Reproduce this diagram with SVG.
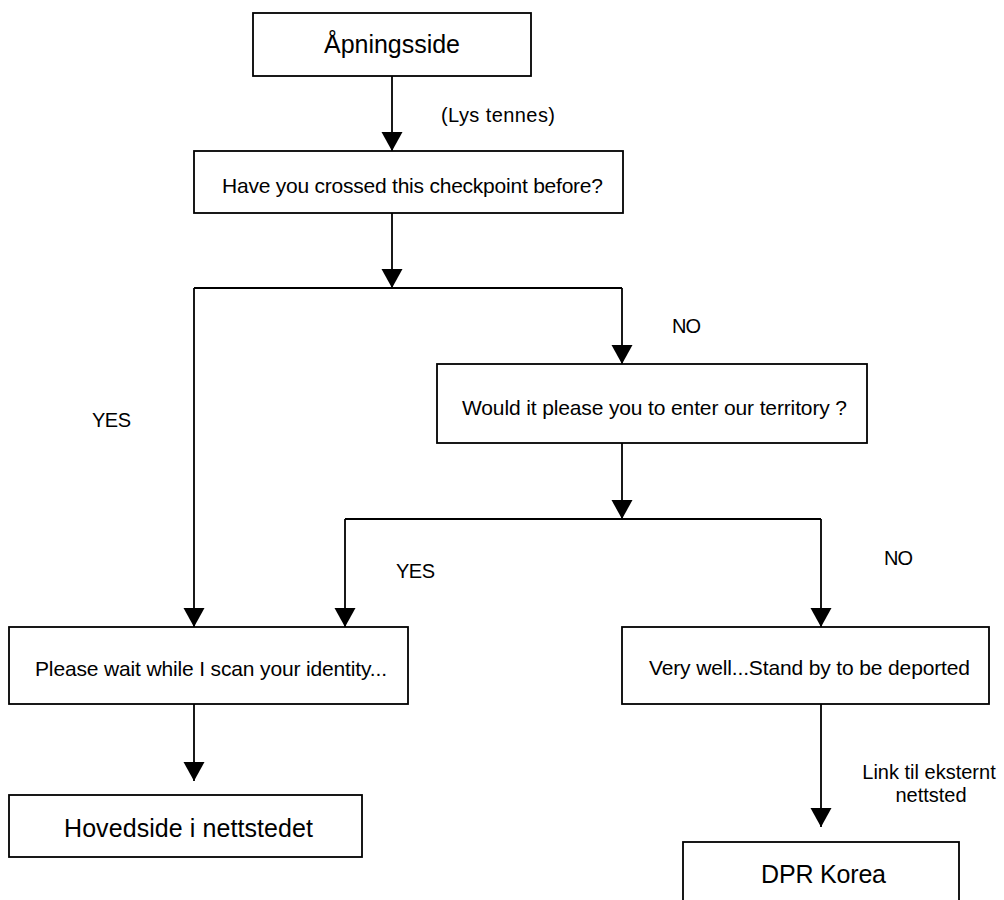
<svg xmlns="http://www.w3.org/2000/svg" width="1004" height="900" viewBox="0 0 1004 900">
<defs>
<marker id="arr" markerUnits="userSpaceOnUse" markerWidth="20" markerHeight="22" refX="19" refY="10.5" orient="auto">
<path d="M0,0 L19,10.5 L0,21 z" fill="#000"/>
</marker>
<style>
.box{fill:#fff;stroke:#000;stroke-width:1.8}
.ln{fill:none;stroke:#000;stroke-width:1.8}
.t{font-family:"Liberation Sans",Arial,sans-serif;font-size:20px;fill:#000}
.bt{font-family:"Liberation Sans",Arial,sans-serif;font-size:21px;fill:#000}
.big{font-family:"Liberation Sans",Arial,sans-serif;font-size:25px;fill:#000}
</style>
</defs>
<rect width="1004" height="900" fill="#fff"/>
<g id="connectors">
<path class="ln" d="M392,76 V151" marker-end="url(#arr)"/>
<path class="ln" d="M392,213 V288" marker-end="url(#arr)"/>
<path class="ln" d="M194,288 H622"/>
<path class="ln" d="M194,288 V627" marker-end="url(#arr)"/>
<path class="ln" d="M622,288 V364" marker-end="url(#arr)"/>
<path class="ln" d="M622,443 V519" marker-end="url(#arr)"/>
<path class="ln" d="M345,519 H821"/>
<path class="ln" d="M345,519 V627" marker-end="url(#arr)"/>
<path class="ln" d="M821,519 V627" marker-end="url(#arr)"/>
<path class="ln" d="M194,704 V781" marker-end="url(#arr)"/>
<path class="ln" d="M821,704 V827" marker-end="url(#arr)"/>
<text class="t" x="441" y="122" textLength="114">(Lys tennes)</text>
<text class="t" x="92" y="427" textLength="39">YES</text>
<text class="t" x="672" y="333" textLength="29">NO</text>
<text class="t" x="396" y="578" textLength="39">YES</text>
<text class="t" x="884" y="565" textLength="29">NO</text>
<text class="t" x="929" y="779" text-anchor="middle">Link til eksternt</text>
<text class="t" x="931" y="802" text-anchor="middle">nettsted</text>
</g>
<g id="n1"><rect class="box" x="253" y="13" width="278" height="63"/><text class="big" x="324" y="53" textLength="136">Åpningsside</text></g>
<g id="n2"><rect class="box" x="194" y="151" width="429" height="62"/><text class="bt" x="222" y="193" textLength="381">Have you crossed this checkpoint before?</text></g>
<g id="n3"><rect class="box" x="437" y="364" width="430" height="79"/><text class="bt" x="462" y="415" textLength="385">Would it please you to enter our territory ?</text></g>
<g id="n4"><rect class="box" x="9" y="627" width="399" height="77"/><text class="bt" x="35" y="676" textLength="352">Please wait while I scan your identity...</text></g>
<g id="n5"><rect class="box" x="9" y="795" width="353" height="62"/><text class="big" x="64" y="837" textLength="249">Hovedside i nettstedet</text></g>
<g id="n6"><rect class="box" x="622" y="627" width="367" height="77"/><text class="bt" x="649" y="675" textLength="321">Very well...Stand by to be deported</text></g>
<g id="n7"><rect class="box" x="683" y="842" width="276" height="80"/><text class="big" x="761" y="883" textLength="125">DPR Korea</text></g>
</svg>
